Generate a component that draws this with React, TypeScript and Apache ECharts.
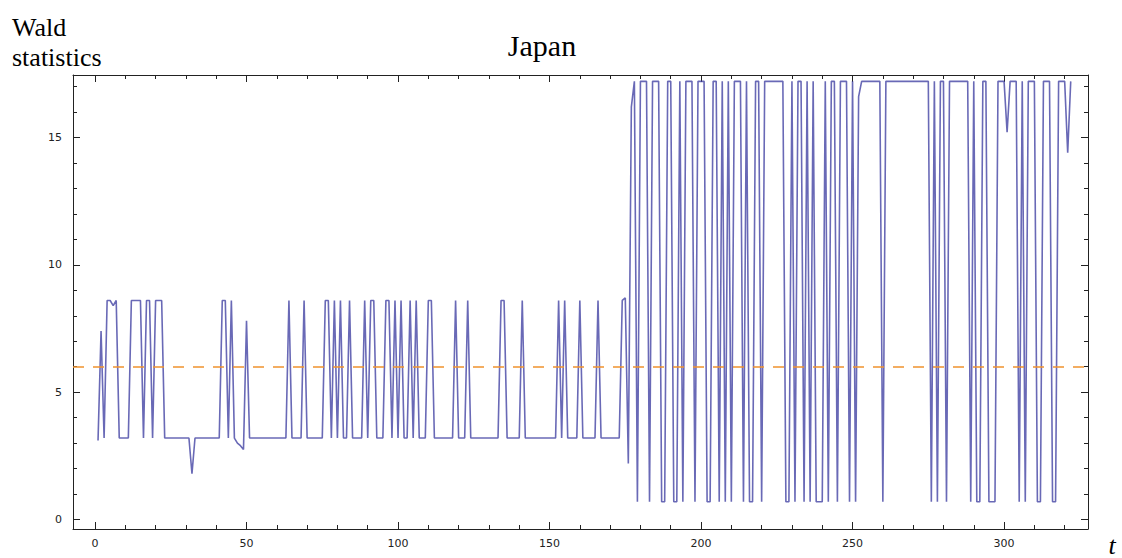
import React, { useEffect, useRef } from "react";
import * as echarts from "echarts";

// Wald statistics, Japan — first regime (t = 1 … 177)
const waldRegime1: number[] = [
  3.1, 7.4, 3.2, 8.6, 8.6, 8.4, 8.6, 3.2, 3.2, 3.2,
  3.2, 8.6, 8.6, 8.6, 8.6, 3.2, 8.6, 8.6, 3.2, 8.6,
  8.6, 8.6, 3.2, 3.2, 3.2, 3.2, 3.2, 3.2, 3.2, 3.2,
  3.2, 1.8, 3.2, 3.2, 3.2, 3.2, 3.2, 3.2, 3.2, 3.2,
  3.2, 8.6, 8.6, 3.2, 8.6, 3.2, 3.0, 2.9, 2.75, 7.8,
  3.2, 3.2, 3.2, 3.2, 3.2, 3.2, 3.2, 3.2, 3.2, 3.2,
  3.2, 3.2, 3.2,
  8.6, 3.2, 3.2, 3.2, 3.2, 8.6,
  3.2, 3.2, 3.2, 3.2, 3.2, 3.2, 8.6, 8.6, 3.2, 8.6,
  3.2, 8.6, 3.2, 3.2, 8.6, 3.2, 3.2, 3.2, 3.2, 8.6,
  3.2, 8.6, 8.6, 3.2, 3.2, 3.2, 8.6, 8.6, 3.2, 8.6,
  3.2, 8.6, 3.2, 3.2, 8.6, 3.2, 8.6, 3.2, 3.2, 3.2,
  8.6, 8.6, 3.2, 3.2, 3.2, 3.2, 3.2, 3.2, 3.2, 8.6,
  3.2, 3.2, 3.2, 8.6, 3.2, 3.2, 3.2, 3.2, 3.2, 3.2,
  3.2, 3.2, 3.2, 3.2, 8.6, 8.6, 3.2, 3.2, 3.2, 3.2,
  3.2, 8.6, 3.2, 3.2, 3.2, 3.2, 3.2, 3.2, 3.2,
  3.2, 3.2, 3.2, 3.2, 8.6, 3.2, 8.6, 3.2, 3.2, 3.2,
  3.2, 8.6, 3.2, 3.2, 3.2, 3.2, 3.2, 8.6, 3.2, 3.2,
  3.2, 3.2, 3.2, 3.2, 3.2, 8.6, 8.7,
];

// Wald statistics, Japan — second regime (continues the index)
const waldRegime2: number[] = [
  2.2, 16.2, 17.2,
  0.7, 17.2, 17.2, 17.2, 0.7, 17.2, 17.2, 17.2, 0.7, 0.7,
  17.2, 17.2, 0.7, 0.7, 17.2, 0.7, 17.2, 17.2, 17.2, 0.7,
  17.2, 17.2, 17.2, 0.7, 0.7, 17.2, 17.2, 0.7, 17.2, 0.7,
  17.2, 0.7, 17.2, 17.2, 17.2, 0.7, 17.2, 0.7, 0.7, 17.2,
  17.2, 0.7, 17.2, 17.2, 17.2, 17.2, 17.2, 17.2, 17.2, 0.7,
  0.7, 17.2, 0.7, 17.2, 17.2, 0.7, 17.2, 0.7, 17.2, 0.7,
  0.7, 0.7, 17.2, 0.7, 17.2, 17.2, 0.7, 17.2, 17.2, 17.2,
  0.7, 17.2, 0.7, 16.6, 17.2, 17.2, 17.2, 17.2, 17.2, 17.2,
  17.2, 0.7, 17.2, 17.2, 17.2, 17.2, 17.2, 17.2, 17.2,
  17.2, 17.2, 17.2, 17.2, 17.2, 17.2, 17.2, 17.2, 0.7, 17.2,
  0.7, 17.2, 17.2, 0.7, 17.2, 17.2, 17.2, 17.2, 17.2, 17.2,
  17.2, 0.7, 17.2, 0.7, 0.7, 17.2, 17.2, 0.7, 0.7, 0.7,
  17.2, 17.2, 17.2, 15.2, 17.2, 17.2, 17.2, 0.7, 17.2, 0.7,
  17.2, 17.2, 17.2, 0.7, 0.7, 17.2, 17.2, 17.2, 0.7, 0.7,
  17.2, 17.2, 17.2, 14.4, 17.2,
];

const criticalValue = 5.99;

const xMajorTicks = [0, 50, 100, 150, 200, 250, 300];
const xMinorTicks = [
  10, 20, 30, 40, 60, 70, 80, 90, 110, 120, 130, 140, 160, 170, 180, 190,
  210, 220, 230, 240, 260, 270, 280, 290, 310, 320,
];
const yMajorTicks = [0, 5, 10, 15];
const yMinorTicks = [1, 2, 3, 4, 6, 7, 8, 9, 11, 12, 13, 14, 16, 17];

const X_MIN = -7.26;
const X_MAX = 327.7;
const Y_MIN = -0.37;
const Y_MAX = 17.45;

export default function App() {
  const ref = useRef<HTMLDivElement>(null);

  useEffect(() => {
    if (!ref.current) return;
    const chart = echarts.init(ref.current, null, { renderer: "svg" });
    const values = [...waldRegime1, ...waldRegime2];
    const data = values.map((v, i) => [i + 1, v]);

    const frameColor = "#222";
    const lineStyle = { color: frameColor, width: 1 };
    const labelStyle = {
      fontFamily: "DejaVu Sans",
      fontSize: 11,
      color: "#222",
    };

    const xAxisBase = (position: "top" | "bottom", major: boolean) => ({
      type: "value" as const,
      gridIndex: 0,
      position,
      min: X_MIN,
      max: X_MAX,
      axisLine: { show: major, onZero: false, lineStyle },
      axisTick: {
        show: true,
        inside: true,
        length: major ? 7 : 4,
        customValues: major ? xMajorTicks : xMinorTicks,
        lineStyle,
      },
      axisLabel: {
        show: major && position === "bottom",
        customValues: xMajorTicks,
        margin: 9,
        ...labelStyle,
      },
      splitLine: { show: false },
    });

    const yAxisBase = (position: "left" | "right", major: boolean) => ({
      type: "value" as const,
      gridIndex: 0,
      position,
      min: Y_MIN,
      max: Y_MAX,
      axisLine: { show: major, onZero: false, lineStyle },
      axisTick: {
        show: true,
        inside: true,
        length: major ? 7 : 4,
        customValues: major ? yMajorTicks : yMinorTicks,
        lineStyle,
      },
      axisLabel: {
        show: major && position === "left",
        customValues: yMajorTicks,
        margin: 11,
        ...labelStyle,
      },
      splitLine: { show: false },
    });

    chart.setOption({
      animation: false,
      backgroundColor: "#ffffff",
      grid: { left: 73, top: 75, width: 1015, height: 454, containLabel: false },
      xAxis: [
        xAxisBase("bottom", true),
        xAxisBase("bottom", false),
        xAxisBase("top", true),
        xAxisBase("top", false),
      ],
      yAxis: [
        yAxisBase("left", true),
        yAxisBase("left", false),
        yAxisBase("right", true),
        yAxisBase("right", false),
      ],
      graphic: [
        {
          type: "text",
          left: 12,
          top: 14,
          style: { text: "Wald", font: "26px 'Liberation Serif'", fill: "#000" },
        },
        {
          type: "text",
          left: 12,
          top: 44,
          style: { text: "statistics", font: "26px 'Liberation Serif'", fill: "#000" },
        },
        {
          type: "text",
          x: 542,
          y: 45,
          style: {
            text: "Japan",
            font: "30px 'Liberation Serif'",
            fill: "#000",
            align: "center",
            verticalAlign: "middle",
          },
        },
        {
          type: "text",
          x: 1112,
          y: 545,
          style: {
            text: "t",
            font: "italic 26px 'Liberation Serif'",
            fill: "#000",
            align: "center",
            verticalAlign: "middle",
          },
        },
      ],
      series: [
        {
          type: "line",
          xAxisIndex: 0,
          yAxisIndex: 0,
          data,
          showSymbol: false,
          symbol: "none",
          lineStyle: { color: "#4444a4", width: 1.6, opacity: 0.8 },
          emphasis: { disabled: true },
          markLine: {
            silent: true,
            symbol: "none",
            label: { show: false },
            lineStyle: { type: [11, 9], color: "#f0932e", width: 1.5 },
            data: [{ yAxis: criticalValue }],
          },
          z: 3,
        },
      ],
    });

    return () => chart.dispose();
  }, []);

  return (
    <div
      ref={ref}
      style={{ position: "fixed", left: 0, top: 0, width: 1122, height: 558 }}
    />
  );
}
